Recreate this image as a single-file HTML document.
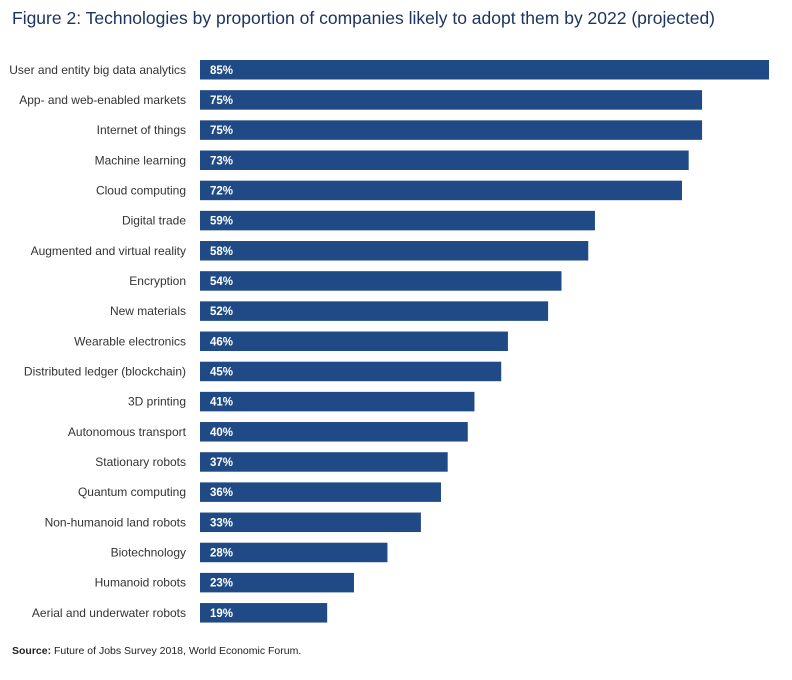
<!DOCTYPE html>
<html><head><meta charset="utf-8"><style>
body{margin:0;background:#fff;font-family:"Liberation Sans",sans-serif;}
#wrap{position:relative;width:792px;height:680px;}
.title{position:absolute;left:12px;top:8px;font-size:17.5px;color:#1e3460;}
.src{position:absolute;left:12px;top:645px;font-size:10.5px;color:#222;}
</style></head><body>
<div id="wrap">
<div class="title">Figure 2: Technologies by proportion of companies likely to adopt them by 2022 (projected)</div>
<svg id="chart" width="792" height="680" style="position:absolute;left:0;top:0"></svg>
<div class="src"><b>Source:</b> Future of Jobs Survey 2018, World Economic Forum.</div>
</div>
<script>
const categories=["User and entity big data analytics","App- and web-enabled markets","Internet of things","Machine learning","Cloud computing","Digital trade","Augmented and virtual reality","Encryption","New materials","Wearable electronics","Distributed ledger (blockchain)","3D printing","Autonomous transport","Stationary robots","Quantum computing","Non-humanoid land robots","Biotechnology","Humanoid robots","Aerial and underwater robots"];
const values=[85,75,75,73,72,59,58,54,52,46,45,41,40,37,36,33,28,23,19];
const NS="http://www.w3.org/2000/svg";
const svg=document.getElementById('chart');
const x0=200, pxPer=(769-200)/85;
const xScale=v=>v*pxPer;
const yTop=60, step=30.17, bh=19.5;
const yScale=i=>yTop+i*step;
categories.forEach((c,i)=>{
  const y=yScale(i);
  const r=document.createElementNS(NS,'rect');
  r.setAttribute('x',x0);r.setAttribute('y',y);r.setAttribute('width',xScale(values[i]));r.setAttribute('height',bh);r.setAttribute('fill','#1f4a85');
  
  
  svg.appendChild(r);
  const t=document.createElementNS(NS,'text');
  t.setAttribute('x',210);t.setAttribute('y',y+bh/2+4);t.setAttribute('fill','#fff');t.setAttribute('font-size','11.5');t.setAttribute('font-weight','bold');t.setAttribute('font-family','Liberation Sans, sans-serif');
  t.textContent=values[i]+'%';
  
  
  svg.appendChild(t);
  const l=document.createElementNS(NS,'text');
  l.setAttribute('x',186);l.setAttribute('y',y+bh/2+4);l.setAttribute('fill','#333');l.setAttribute('font-size','12');l.setAttribute('text-anchor','end');l.setAttribute('font-family','Liberation Sans, sans-serif');
  l.textContent=c;
  
  
  svg.appendChild(l);
});
</script>
</body></html>
